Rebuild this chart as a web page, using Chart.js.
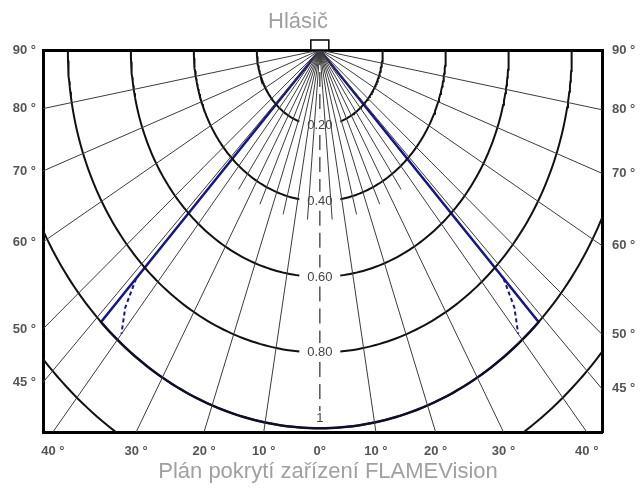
<!DOCTYPE html>
<html>
<head>
<meta charset="utf-8">
<script src="https://cdn.jsdelivr.net/npm/chart.js@4.4.1/dist/chart.umd.min.js"></script>
<style>
  html, body { margin: 0; padding: 0; background: #fff; }
</style>
</head>
<body>
<canvas id="myChart" width="640" height="490"></canvas>
<script>
const ringRadii = [0.2, 0.4, 0.6, 0.8, 1.0, 1.2]
const ringLabels = ['0.20', '0.40', '0.60', '0.80', '1', '']
const majorAngles = [-80, -70, -60, -50, -45, -40, -30, -20, -10, 10, 20, 30, 40, 45, 50, 60, 70, 80]
const minorAngles = [-35, -25, -15, -5, 5, 15, 25, 35]
const minorLength = 0.45
const sideTickAngles = [90, 80, 70, 60, 50, 45]
const sideTickLabels = ['90 °', '80 °', '70 °', '60 °', '50 °', '45 °']
const bottomTickAngles = [-40, -30, -20, -10, 0, 10, 20, 30, 40]
const bottomTickLabels = ['40 °', '30 °', '20 °', '10 °', '0°', '10 °', '20 °', '30 °', '40 °']
const coverageAngle = 44
const coverageRange = 1.0
const innerEdgeRange = [0.84, 0.92, 0.98]
const innerEdgeAngle = [44, 42.2, 40]

const xMin = -0.879, xMax = 0.896, yMin = -1.01, yMax = 0
const labelGap = 0.065

const rad = d => d * Math.PI / 180
const polar = (r, a) => ({x: r * Math.sin(rad(a)), y: -r * Math.cos(rad(a))})
const brk = {x: 0, y: null}
const arcPts = (r, a0, a1) => {
    const pts = []
    const n = Math.max(2, Math.ceil(Math.abs(a1 - a0)))
    for (let i = 0; i <= n; i++) pts.push(polar(r, a0 + (a1 - a0) * i / n))
    return pts
}

const radialData = majorAngles.flatMap(a => [polar(0, 0), polar(3, a), brk])
const minorData = minorAngles.flatMap(a => [polar(0, 0), polar(minorLength, a), brk])

const ringData = ringRadii.flatMap((r, i) => {
    if (ringLabels[i].length > 1) {
        const g = Math.asin(labelGap / r) * 180 / Math.PI
        return [...arcPts(r, -90, -g), brk, ...arcPts(r, g, 90), brk]
    }
    return [...arcPts(r, -90, 90), brk]
})

// center line, broken where the range labels sit
const centerData = ringRadii.filter((r, i) => ringLabels[i]).flatMap((r, i, arr) => {
    const from = i === 0 ? 0 : arr[i - 1] + 0.025
    const to = ringLabels[ringRadii.indexOf(r)].length > 1 ? r - 0.025 : r - 0.045
    return [polar(from, 0), polar(to, 0), brk]
})

const coverageData = [polar(0, 0), ...arcPts(coverageRange, -coverageAngle, coverageAngle), polar(0, 0)]
const innerEdgeData = [
    ...innerEdgeRange.map((r, i) => polar(r, -innerEdgeAngle[i])), brk,
    ...innerEdgeRange.map((r, i) => polar(r, innerEdgeAngle[i]))
]

const overlay = {
    id: 'overlay',
    afterDraw(chart) {
        const c = chart.ctx
        const sx = chart.scales.x, sy = chart.scales.y
        const x0 = sx.getPixelForValue(0), y0 = sy.getPixelForValue(0)
        c.save()
        // range labels along the centre line
        c.fillStyle = '#444'
        c.font = '13px "Liberation Sans", Arial, sans-serif'
        c.textAlign = 'center'
        ringRadii.forEach((r, i) => {
            if (!ringLabels[i]) return
            const py = sy.getPixelForValue(-r)
            if (ringLabels[i].length > 1) {
                c.textBaseline = 'middle'
                c.fillText(ringLabels[i], x0, py)
            } else {
                c.textBaseline = 'bottom'
                c.fillText(ringLabels[i], x0, py - 3)
            }
        })
        // detector box
        c.fillStyle = '#fff'
        c.strokeStyle = '#000'
        c.lineWidth = 1.5
        c.fillRect(x0 - 9, y0 - 10, 18, 10)
        c.strokeRect(x0 - 9, y0 - 10, 18, 10)
        // captions
        c.fillStyle = '#a0a0a0'
        c.font = '22px "Liberation Sans", Arial, sans-serif'
        c.textBaseline = 'middle'
        c.fillText('Hlásič', 298, 22)
        c.fillText('Plán pokrytí zařízení FLAMEVision', 328, 472)
        c.restore()
    }
}

const tickFont = {family: '"Liberation Sans", Arial, sans-serif', size: 13, weight: 'bold'}
const sideTicks = edge => s => {
    s.ticks = sideTickAngles.map(a => ({value: a === 90 ? 0 : -edge / Math.tan(rad(a))}))
}

new Chart(document.getElementById('myChart'), {
    type: 'scatter',
    data: {
        datasets: [
            {data: radialData, showLine: true, borderColor: '#3c3c3c', borderWidth: 1, pointRadius: 0},
            {data: minorData, showLine: true, borderColor: '#3c3c3c', borderWidth: 1, pointRadius: 0},
            {data: centerData, showLine: true, borderColor: '#555', borderWidth: 1.5, borderDash: [15, 7], pointRadius: 0},
            {data: ringData, showLine: true, borderColor: '#111', borderWidth: 2, pointRadius: 0},
            {data: coverageData, showLine: true, borderColor: '#16168a', borderWidth: 2.5, pointRadius: 0},
            {data: innerEdgeData, showLine: true, borderColor: '#16168a', borderWidth: 2, borderDash: [4, 3], pointRadius: 0}
        ]
    },
    options: {
        responsive: false,
        animation: false,
        layout: {padding: 0},
        plugins: {legend: {display: false}, tooltip: {enabled: false}},
        scales: {
            x: {
                type: 'linear', position: 'bottom', min: xMin, max: xMax, z: 1,
                grid: {display: false, drawTicks: false},
                border: {color: '#000', width: 3},
                afterBuildTicks: s => { s.ticks = bottomTickAngles.map(a => ({value: -yMin * Math.tan(rad(a))})) },
                ticks: {autoSkip: false, maxRotation: 0, padding: 12, color: '#555', font: tickFont,
                        callback: (v, i) => bottomTickLabels[i]},
                afterFit: s => { s.height = 58 }
            },
            xTop: {
                type: 'linear', position: 'top', min: xMin, max: xMax, z: 1,
                grid: {display: false, drawTicks: false},
                border: {color: '#000', width: 3},
                ticks: {display: false},
                afterFit: s => { s.height = 50 }
            },
            y: {
                type: 'linear', position: 'left', min: yMin, max: yMax, z: 1,
                grid: {display: false, drawTicks: false},
                border: {color: '#000', width: 3},
                afterBuildTicks: sideTicks(-xMin),
                ticks: {autoSkip: false, padding: 7, color: '#555', font: tickFont,
                        callback: (v, i) => sideTickLabels[i]},
                afterFit: s => { s.width = 43 }
            },
            yRight: {
                type: 'linear', position: 'right', min: yMin, max: yMax, z: 1,
                grid: {display: false, drawTicks: false},
                border: {color: '#000', width: 3},
                afterBuildTicks: sideTicks(xMax),
                ticks: {autoSkip: false, padding: 10, color: '#555', font: tickFont,
                        callback: (v, i) => sideTickLabels[i]},
                afterFit: s => { s.width = 38 }
            }
        }
    },
    plugins: [overlay]
})
</script>
</body>
</html>
